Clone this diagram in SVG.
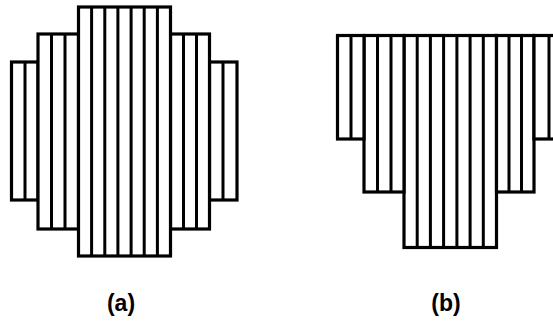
<svg xmlns="http://www.w3.org/2000/svg" width="553" height="324" viewBox="0 0 553 324">
<style>
.b{fill:#fff;stroke:#000;stroke-width:3.2}
.d{stroke:#000;stroke-width:3}
.t{font-family:"Liberation Sans",Arial,sans-serif;font-weight:bold;font-size:23px;fill:#000;text-anchor:middle}
</style>
<rect width="553" height="324" fill="#fff"/>
<g id="figA">
<g id="a1"><rect class="b" x="11.5" y="62" width="26.5" height="138"/><line class="d" x1="25" y1="62" x2="25" y2="200"/></g>
<g id="a5"><rect class="b" x="209.5" y="62" width="27.5" height="138"/><line class="d" x1="223" y1="62" x2="223" y2="200"/></g>
<g id="a2"><rect class="b" x="38" y="34" width="40.5" height="195"/><path class="d" d="M51.5 34V229M65 34V229"/></g>
<g id="a4"><rect class="b" x="170.5" y="34" width="39" height="195"/><path class="d" d="M183.5 34V229M196.5 34V229"/></g>
<g id="a3"><rect class="b" x="78.5" y="7" width="92" height="249"/><path class="d" d="M91.6 7V256M104.8 7V256M117.9 7V256M131.1 7V256M144.2 7V256M157.4 7V256"/></g>
</g>
<g id="figB">
<g id="b3"><rect class="b" x="404" y="35.5" width="92.5" height="212"/><path class="d" d="M417.2 35.5V247.5M430.4 35.5V247.5M443.6 35.5V247.5M456.9 35.5V247.5M470.1 35.5V247.5M483.3 35.5V247.5"/></g>
<g id="b2"><rect class="b" x="364" y="35.5" width="40" height="156.5"/><path class="d" d="M377.5 35.5V192M391 35.5V192"/></g>
<g id="b4"><rect class="b" x="496.5" y="35.5" width="37.5" height="156.5"/><path class="d" d="M509 35.5V192M521.5 35.5V192"/></g>
<g id="b1"><rect class="b" x="337.5" y="35.5" width="26.5" height="103.5"/><line class="d" x1="351" y1="35.5" x2="351" y2="139"/></g>
<g id="b5"><rect class="b" x="534" y="35.5" width="28" height="103.5"/><line class="d" x1="549" y1="35.5" x2="549" y2="139"/></g>
</g>
<g id="labels">
<text class="t" x="121" y="311">(a)</text>
<text class="t" x="446" y="311">(b)</text>
</g>
</svg>
